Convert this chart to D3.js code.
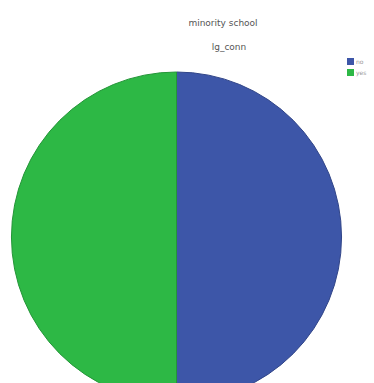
<!DOCTYPE html>
<html>
<head>
<meta charset="utf-8">
<script src="https://cdn.jsdelivr.net/npm/d3@7"></script>
<style>
  body { margin: 0; background: #fff; }
  svg { display: block; }
</style>
</head>
<body>
<svg id="chart" width="374" height="383"></svg>
<script>
const categories = ["no", "yes"];
const counts = [50, 50];
const colors = ["#3d56a8", "#2db845"];

const CX = 176.5, CY = 237, R = 165;

const svg = d3.select("#chart");

svg.append("text")
  .attr("x", 223).attr("y", 26)
  .attr("text-anchor", "middle")
  .attr("font-family", "DejaVu Sans, sans-serif")
  .attr("font-size", 9)
  .attr("fill", "#555")
  .text("minority school");

svg.append("text")
  .attr("x", 229).attr("y", 50)
  .attr("text-anchor", "middle")
  .attr("font-family", "DejaVu Sans, sans-serif")
  .attr("font-size", 9)
  .attr("fill", "#555")
  .text("lg_conn");

const pie = d3.pie().sort(null).value(d => d.v);
const arc = d3.arc().innerRadius(0).outerRadius(R);
const data = categories.map((c, i) => ({c: c, v: counts[i], col: colors[i]}));

svg.append("g")
  .attr("transform", `translate(${CX},${CY})`)
  .selectAll("path")
  .data(pie(data))
  .join("path")
  .attr("d", arc)
  .attr("fill", d => d.data.col)
  .attr("stroke", d => d3.color(d.data.col).darker(0.6))
  .attr("stroke-width", 1);

const legend = svg.append("g").attr("transform", "translate(347,58)");
const item = legend.selectAll("g")
  .data(data)
  .join("g")
  .attr("transform", (d, i) => `translate(0,${i * 11})`);
item.append("rect")
  .attr("width", 7).attr("height", 7)
  .attr("fill", d => d.col);
item.append("text")
  .attr("x", 9).attr("y", 6)
  .attr("font-family", "DejaVu Sans, sans-serif")
  .attr("font-size", 6)
  .attr("fill", "#999")
  .text(d => d.c);
</script>
</body>
</html>
